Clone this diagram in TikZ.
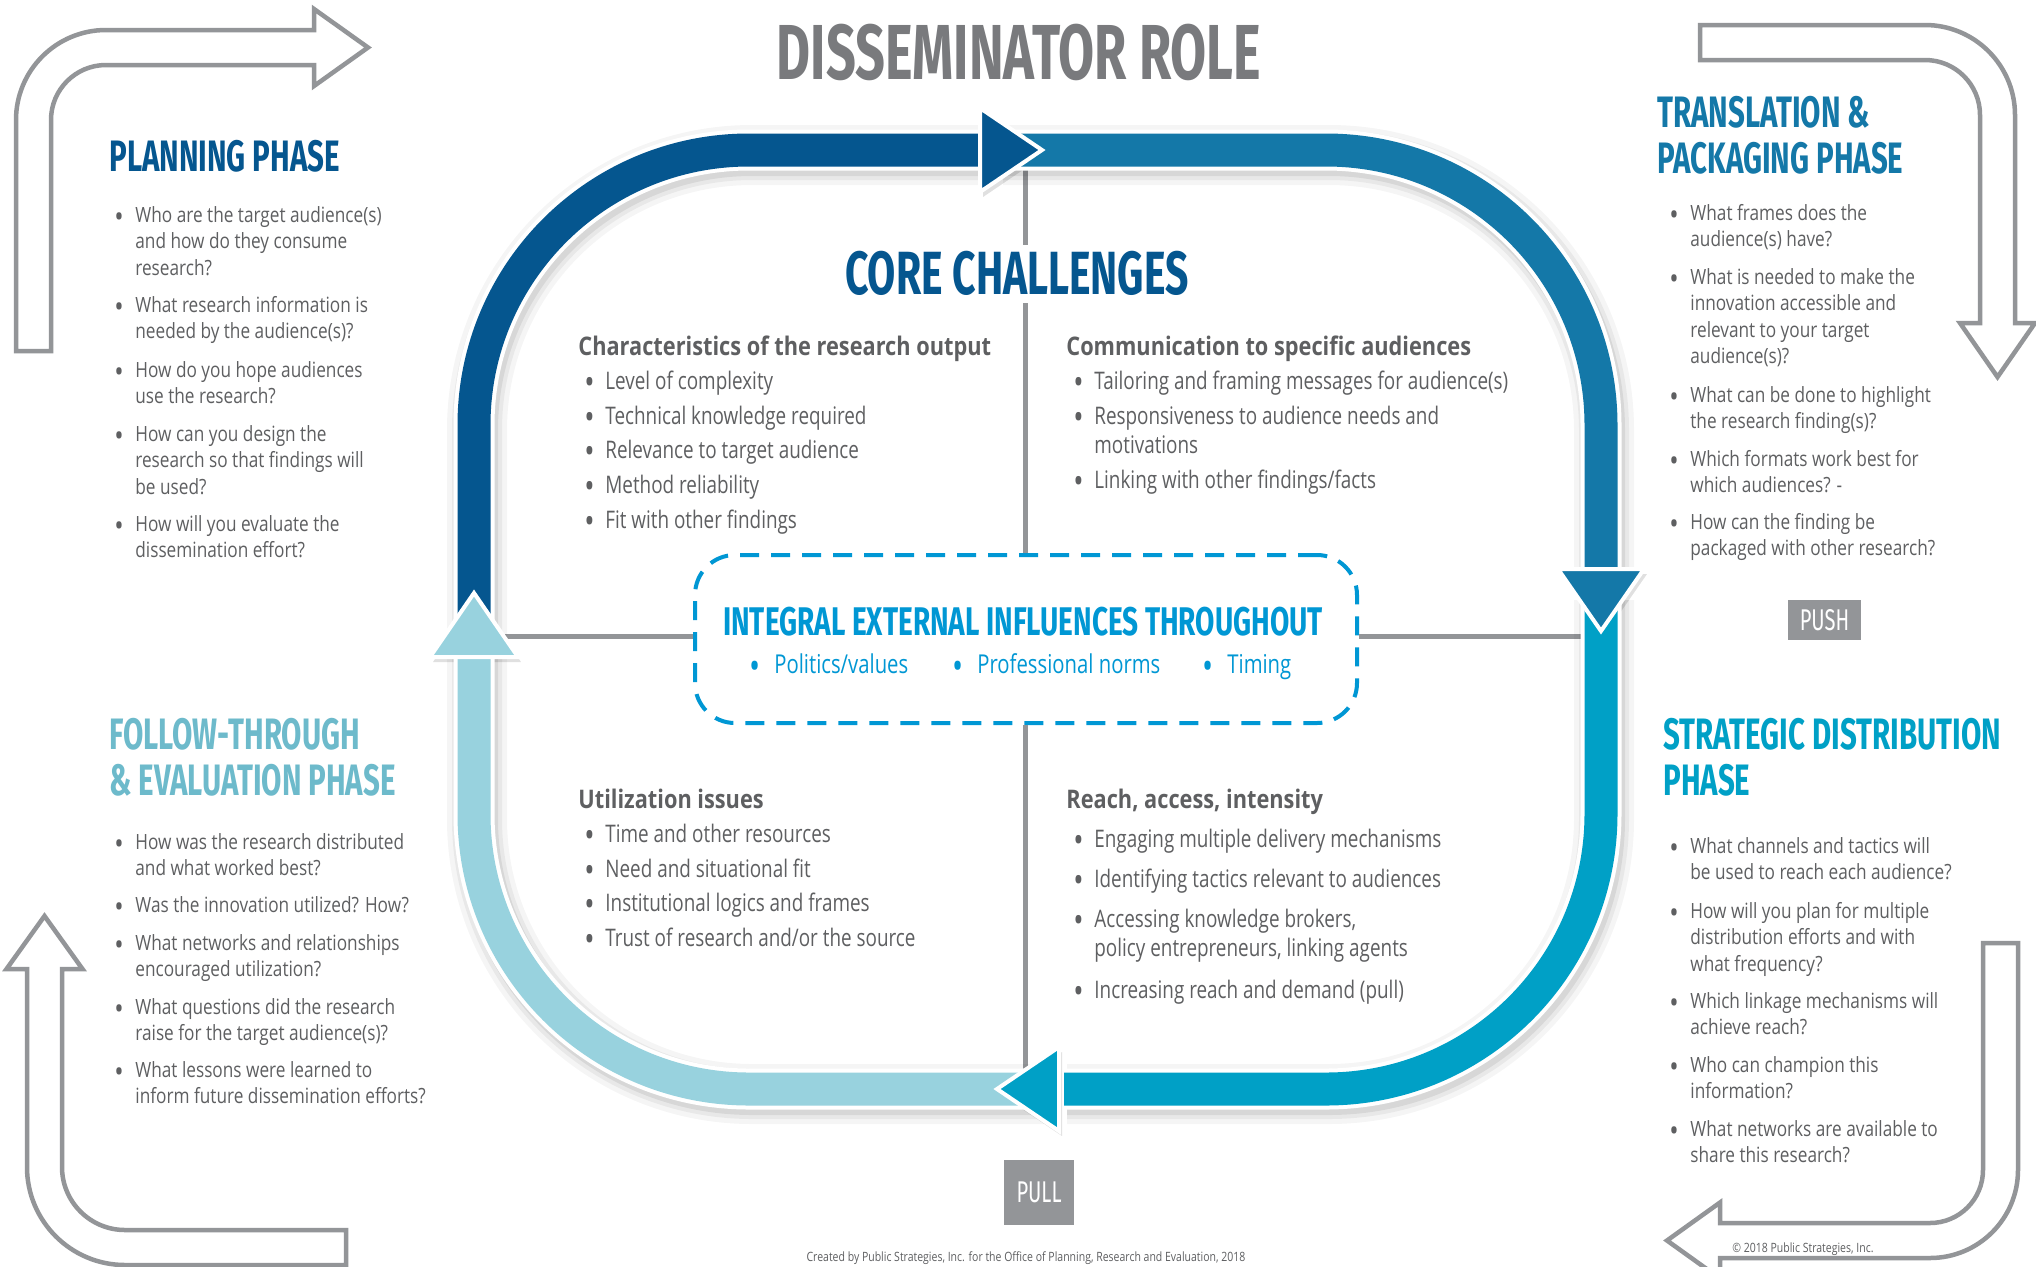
\documentclass[tikz,border=0pt]{standalone}
\usepackage{fontspec}
\usepackage{graphicx}
\setmainfont{Open Sans}
\newfontfamily\dinfont{Fira Sans}[FakeStretch=0.67]
\newfontfamily\dinwide{Fira Sans}[FakeStretch=0.70]
\newfontfamily\sidefont{Open Sans}[FakeStretch=0.82]
\newfontfamily\headfont{Open Sans}[FakeStretch=0.85]
\newfontfamily\condfont{Open Sans}[FakeStretch=0.78]
\definecolor{cDark}{HTML}{05568F}
\definecolor{cMid}{HTML}{1478A8}
\definecolor{cCyan}{HTML}{00A0C6}
\definecolor{cLight}{HTML}{98D2DE}
\definecolor{cFollow}{HTML}{6DBACB}
\definecolor{cGrayLine}{HTML}{939598}
\definecolor{cText}{HTML}{5E5F61}
\definecolor{cTitle}{HTML}{797A7D}
\definecolor{cDash}{HTML}{0097D4}
\newcommand\bul{\raisebox{-0.24em}{\scalebox{1.45}{\textbullet}}}
\newcommand\bitem[1]{\makebox[10.5pt][l]{\bul}\begin{tabular}[t]{@{}l@{}}#1\end{tabular}}
\newcommand\titlelines[1]{\begin{tabular}[t]{@{}l@{}}#1\end{tabular}}
\begin{document}
\begin{tikzpicture}[x=0.5pt,y=-0.5pt,
  outarrow/.style={draw=cGrayLine, line width=2.25pt, line join=miter, fill=white},
  crossline/.style={draw=cGrayLine, line width=2.5pt},
  sidetxt/.style={anchor=base west, inner sep=0pt, text=cText, font=\sidefont\fontsize{10.5}{13.25}\selectfont},
  coretxt/.style={anchor=base west, inner sep=0pt, text=cText, font=\condfont\fontsize{12.1}{14.8}\selectfont},
  corehead/.style={anchor=base west, inner sep=0pt, text=cText, font=\headfont\bfseries\fontsize{12.8}{14}\selectfont},
  inttxt/.style={anchor=base west, inner sep=0pt, text=cDash, font=\condfont\fontsize{13}{14}\selectfont},
  phasetitle/.style={anchor=base west, inner sep=0pt, font=\dinfont\bfseries\fontsize{22}{23}\selectfont},
  tagbox/.style={fill=cGrayLine, text=white, inner sep=0pt, font=\dinfont\fontsize{15}{15}\selectfont},
  bandA/.style={insert path={(474,630) -- (474,150) -- (985,150)}},
  bandB/.style={insert path={(1000,150) -- (1601,150) -- (1601,574)}},
  bandC/.style={insert path={(1601,595) -- (1601,1089) -- (1064,1089)}},
  bandD/.style={insert path={(1045,1089) -- (474,1089) -- (474,652)}},
  headA/.style={insert path={(980,108) -- (1042,150) -- (980,192) -- cycle}},
  headB/.style={insert path={(1558,569) -- (1601,631) -- (1644,569) -- cycle}},
  headC/.style={insert path={(1059,1047) -- (997,1089) -- (1059,1131) -- cycle}},
  headD/.style={insert path={(430,657) -- (474,593) -- (518,657) -- cycle}},
  rc/.style={rounded corners=137.5pt}
]
\useasboundingbox (0,0) rectangle (2036,1266);
\clip (0,0) rectangle (2036,1266);
\fill[white] (0,0) rectangle (2036,1266);

% ---------- outline corner arrows ----------
\draw[outarrow] (16,351) -- (16,120) .. controls (16,70.3) and (56.3,30) .. (106,30) -- (314,30) -- (314,9) -- (368,47.5) -- (314,86) -- (314,65) -- (106,65) .. controls (75.6,65) and (51,89.6) .. (51,120) -- (51,351) -- cycle;
\draw[outarrow] (1700,25) -- (1925,25) .. controls (1974.7,25) and (2015,65.3) .. (2015,115) -- (2015,323) -- (2035,323) -- (1997.5,377) -- (1960,323) -- (1980,323) -- (1980,115) .. controls (1980,84.6) and (1955.4,60) .. (1925,60) -- (1700,60) -- cycle;
\draw[outarrow] (346,1230) -- (125,1230) .. controls (90.2,1230) and (62,1201.8) .. (62,1167) -- (62,969) -- (82.5,969) -- (44.5,916) -- (6.5,969) -- (27,969) -- (27,1167) .. controls (27,1221.1) and (70.9,1265) .. (125,1265) -- (346,1265) -- cycle;
\draw[outarrow] (1983,943) -- (2018,943) -- (2018,1170) .. controls (2018,1218.6) and (1978.6,1258) .. (1930,1258) -- (1720,1258) -- (1720,1278.5) -- (1667,1240.5) -- (1720,1202.5) -- (1720,1223) -- (1930,1223) .. controls (1959.3,1223) and (1983,1199.3) .. (1983,1170) -- cycle;

% ---------- title ----------
\node[text=cTitle, font=\dinfont\bfseries\fontsize{39}{40}\selectfont, inner sep=0pt] (maintitle) at (1019,52) {DISSEMINATOR ROLE};

% ---------- integral box and cross lines ----------
\node[draw=cDash, line width=2pt, dash pattern=on 9.5pt off 6pt, rounded corners=20pt, minimum width=331pt, minimum height=84pt, inner sep=0pt] (intbox) at (1026,639) {};
\coordinate (vtop) at (1025,166);
\coordinate (vgapa) at (1025,245);
\coordinate (vgapb) at (1025,303);
\coordinate (vbot) at (1025,1075);
\coordinate (hleft) at (491,636);
\coordinate (hright) at (1584,636);
\draw[crossline] (vtop) -- (vgapa);
\draw[crossline] (vgapb) -- (vgapb |- intbox.north);
\draw[crossline] (vbot |- intbox.south) -- (vbot);
\draw[crossline] (hleft) -- (hleft -| intbox.west);
\draw[crossline] (hright -| intbox.east) -- (hright);

\node[text=cDash, font=\dinwide\bfseries\fontsize{20}{21}\selectfont, inner sep=0pt] (inttitle) at (1023,622) {INTEGRAL EXTERNAL INFLUENCES THROUGHOUT};
\node[inttxt] (int1) at (749,673) {\makebox[12.5pt][l]{\bul}Politics/values};
\node[inttxt] (int2) at (952,673) {\makebox[12.5pt][l]{\bul}Professional norms};
\node[inttxt] (int3) at (1202,673) {\makebox[12.5pt][l]{\bul}Timing};

% ---------- core challenges ----------
\node[text=cDark, font=\dinfont\bfseries\fontsize{30.5}{32}\selectfont, inner sep=0pt] (coretitle) at (1017,273) {CORE CHALLENGES};

\node[corehead] (tlh) at (578,355) {Characteristics of the research output};
\node[coretxt] (tl1) at (584,389) {\bitem{Level of complexity}};
\node[coretxt] (tl2) at (584,424) {\bitem{Technical knowledge required}};
\node[coretxt] (tl3) at (584,458) {\bitem{Relevance to target audience}};
\node[coretxt] (tl4) at (584,493) {\bitem{Method reliability}};
\node[coretxt] (tl5) at (584,528) {\bitem{Fit with other findings}};

\node[corehead] (trh) at (1066,355) {Communication to specific audiences};
\node[coretxt] (tr1) at (1073,389) {\bitem{Tailoring and framing messages for audience(s)}};
\node[coretxt] (tr2) at (1073,424) {\bitem{Responsiveness to audience needs and\\motivations}};
\node[coretxt] (tr3) at (1073,488) {\bitem{Linking with other findings/facts}};

\node[corehead] (blh) at (578,808) {Utilization issues};
\node[coretxt] (bl1) at (584,842) {\bitem{Time and other resources}};
\node[coretxt] (bl2) at (584,877) {\bitem{Need and situational fit}};
\node[coretxt] (bl3) at (584,911) {\bitem{Institutional logics and frames}};
\node[coretxt] (bl4) at (584,946) {\bitem{Trust of research and/or the source}};

\node[corehead] (brh) at (1066,808) {Reach, access, intensity};
\node[coretxt] (br1) at (1073,847) {\bitem{Engaging multiple delivery mechanisms}};
\node[coretxt] (br2) at (1073,887) {\bitem{Identifying tactics relevant to audiences}};
\node[coretxt] (br3) at (1073,927) {\bitem{Accessing knowledge brokers,\\policy entrepreneurs, linking agents}};
\node[coretxt] (br4) at (1073,998) {\bitem{Increasing reach and demand (pull)}};

% ---------- loop band: shadows ----------
\foreach \w/\o in {30/0.04,25/0.05,21/0.07}{
  \draw[rc, draw=black, opacity=\o, line width=\w pt, shift={(3,5)}, bandA];
  \draw[rc, draw=black, opacity=\o, line width=\w pt, shift={(3,5)}, bandB];
  \draw[rc, draw=black, opacity=\o, line width=\w pt, shift={(3,5)}, bandC];
  \draw[rc, draw=black, opacity=\o, line width=\w pt, shift={(3,5)}, bandD];
}
\fill[black, opacity=0.12, shift={(3,5)}, headA];
\fill[black, opacity=0.12, shift={(3,5)}, headB];
\fill[black, opacity=0.12, shift={(3,5)}, headC];
\fill[black, opacity=0.12, shift={(3,5)}, headD];

% ---------- loop band: white edges and colour ----------
\draw[rc, white, line width=20.5pt, bandA];
\draw[rc, white, line width=20.5pt, bandB];
\draw[rc, white, line width=20.5pt, bandC];
\draw[rc, white, line width=20.5pt, bandD];
\draw[rc, cDark, line width=16.5pt, bandA];
\draw[rc, cMid, line width=16.5pt, bandB];
\draw[rc, cCyan, line width=16.5pt, bandC];
\draw[rc, cLight, line width=16.5pt, bandD];
\filldraw[fill=cDark, draw=white, line width=2pt, line join=miter, headA];
\filldraw[fill=cMid, draw=white, line width=2pt, line join=miter, headB];
\filldraw[fill=cCyan, draw=white, line width=2pt, line join=miter, headC];
\filldraw[fill=cLight, draw=white, line width=2pt, line join=miter, headD];

% ---------- planning phase ----------
\node[phasetitle, text=cDark] (plantitle) at (109,171) {PLANNING PHASE};
\node[sidetxt] (p1) at (114,222) {\bitem{Who are the target audience(s)\\and how do they consume\\research?}};
\node[sidetxt] (p2) at (114,312) {\bitem{What research information is\\needed by the audience(s)?}};
\node[sidetxt] (p3) at (114,377) {\bitem{How do you hope audiences\\use the research?}};
\node[sidetxt] (p4) at (114,441) {\bitem{How can you design the\\research so that findings will\\be used?}};
\node[sidetxt] (p5) at (114,531) {\bitem{How will you evaluate the\\dissemination effort?}};

% ---------- translation phase ----------
\node[phasetitle, text=cMid] (transtitle) at (1657,127) {\titlelines{TRANSLATION \&\\PACKAGING PHASE}};
\node[sidetxt] (t1) at (1669,220) {\bitem{What frames does the\\audience(s) have?}};
\node[sidetxt] (t2) at (1669,284) {\bitem{What is needed to make the\\innovation accessible and\\relevant to your target\\audience(s)?}};
\node[sidetxt] (t3) at (1669,402) {\bitem{What can be done to highlight\\the research finding(s)?}};
\node[sidetxt] (t4) at (1669,466) {\bitem{Which formats work best for\\which audiences? -}};
\node[sidetxt] (t5) at (1669,529) {\bitem{How can the finding be\\packaged with other research?}};
\node[tagbox, minimum width=36.5pt, minimum height=20pt] (push) at (1824.5,620) {PUSH};

% ---------- strategic distribution phase ----------
\node[phasetitle, text=cCyan] (strattitle) at (1663,749) {\titlelines{STRATEGIC DISTRIBUTION\\PHASE}};
\node[sidetxt] (s1) at (1669,853) {\bitem{What channels and tactics will\\be used to reach each audience?}};
\node[sidetxt] (s2) at (1669,918) {\bitem{How will you plan for multiple\\distribution efforts and with\\what frequency?}};
\node[sidetxt] (s3) at (1669,1008) {\bitem{Which linkage mechanisms will\\achieve reach?}};
\node[sidetxt] (s4) at (1669,1072) {\bitem{Who can champion this\\information?}};
\node[sidetxt] (s5) at (1669,1136) {\bitem{What networks are available to\\share this research?}};

% ---------- follow-through phase ----------
\node[phasetitle, text=cFollow] (followtitle) at (109,749) {\titlelines{FOLLOW-THROUGH\\\& EVALUATION PHASE}};
\node[sidetxt] (f1) at (114,849) {\bitem{How was the research distributed\\and what worked best?}};
\node[sidetxt] (f2) at (114,912) {\bitem{Was the innovation utilized? How?}};
\node[sidetxt] (f3) at (114,950) {\bitem{What networks and relationships\\encouraged utilization?}};
\node[sidetxt] (f4) at (114,1014) {\bitem{What questions did the research\\raise for the target audience(s)?}};
\node[sidetxt] (f5) at (114,1077) {\bitem{What lessons were learned to\\inform future dissemination efforts?}};

\node[tagbox, minimum width=35pt, minimum height=32.5pt] (pull) at (1039,1192.5) {PULL};

% ---------- footnotes ----------
\node[anchor=base, inner sep=0pt, text=cText, font=\sidefont\fontsize{6.4}{7}\selectfont] (credit) at (1026,1261) {Created by Public Strategies, Inc. for the Office of Planning, Research and Evaluation, 2018};
\node[anchor=base west, inner sep=0pt, text=cText, font=\sidefont\fontsize{6.4}{7}\selectfont] (copyr) at (1732,1252) {\textcopyright{} 2018 Public Strategies, Inc.};
\end{tikzpicture}
\end{document}
